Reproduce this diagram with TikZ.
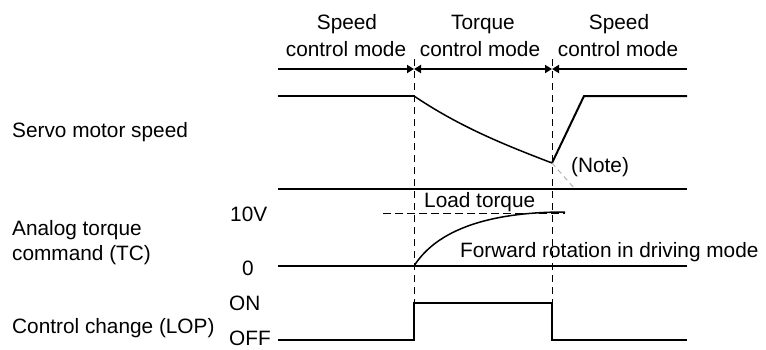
\documentclass[tikz,border=0pt]{standalone}
\usepackage{fontspec}
\setmainfont{Liberation Sans}
\usetikzlibrary{arrows.meta}
\begin{document}
\begin{tikzpicture}[x=1pt,y=-1pt,
  sig/.style={line width=2pt},
  crv/.style={line width=1.5pt},
  guide/.style={line width=1pt, dash pattern=on 7pt off 5pt},
  lbl/.style={inner sep=0pt, font=\fontsize{20.8}{24}\selectfont},
  tipr/.style={-{Triangle[length=7pt,width=8pt]}},
  tipb/.style={{Triangle[length=7pt,width=8pt]}-{Triangle[length=7pt,width=8pt]}}]
\useasboundingbox (0,0) rectangle (766,349);
% coordinates
\coordinate (mL) at (278,69);
\coordinate (mA) at (414,69);
\coordinate (mB) at (552,69);
\coordinate (mR) at (687,69);
% dashed guides
\draw[guide] (414,59) -- (414,303);
\draw[guide] (552,59) -- (552,303);
% mode arrows
\draw[sig,tipr] (mL) -- (mA);
\draw[sig,tipb] (mA) -- (mB);
\draw[sig,tipr] (mR) -- (mB);
% servo motor speed
\coordinate (s0) at (278,96);
\coordinate (s1) at (414,96);
\coordinate (s2) at (552,163);
\coordinate (s3) at (584,96);
\coordinate (s4) at (687,96);
\draw[sig] (s0) -- (s1);
\draw[crv] (s1) .. controls (460,127) and (505,145) .. (s2);
\draw[sig] (s2) -- (s3) -- (s4);
\draw[gray!60, line width=1pt, dash pattern=on 5pt off 4pt] (s2) -- (575,189);
% separator line
\draw[sig] (278,189) -- (687,189);
% analog torque
\draw[line width=1pt, dash pattern=on 8pt off 4pt] (383,213) -- (565,213);
\draw[crv] (414,266) .. controls (440,225) and (500,212) .. (565,212);
\draw[sig] (278,266) -- (687,266);
% control change
\draw[sig] (278,340) -- (414,340) -- (414,303) -- (552,303) -- (552,340) -- (687,340);
% top labels
\node[lbl, anchor=base] (t1a) at (347,29) {Speed};
\node[lbl, anchor=base] (t1b) at (346,56) {control mode};
\node[lbl, anchor=base] (t2a) at (483,29) {Torque};
\node[lbl, anchor=base] (t2b) at (480,56) {control mode};
\node[lbl, anchor=base] (t3a) at (619,29) {Speed};
\node[lbl, anchor=base] (t3b) at (618,56) {control mode};
% left labels
\node[lbl, anchor=base west] (l1) at (12,137) {Servo motor speed};
\node[lbl, anchor=base west] (l2a) at (12,235) {Analog torque};
\node[lbl, anchor=base west] (l2b) at (12,260) {command (TC)};
\node[lbl, anchor=base west] (l3) at (12,333) {Control change (LOP)};
\node[lbl, anchor=base west] (v10) at (230,221) {10V};
\node[lbl, anchor=base west] (v0) at (242,275) {0};
\node[lbl, anchor=base west] (on) at (229,310) {ON};
\node[lbl, anchor=base west] (off) at (229,345) {OFF};
% other labels
\node[lbl, anchor=base west] (note) at (571,172) {(Note)};
\node[lbl, anchor=base west] (load) at (424,207) {Load torque};
\node[lbl, anchor=base west] (fwd) at (460,257) {Forward rotation in driving mode};
\end{tikzpicture}
\end{document}
